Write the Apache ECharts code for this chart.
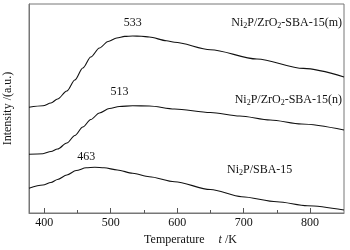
<!DOCTYPE html>
<html><head><meta charset="utf-8">
<script src="https://cdn.jsdelivr.net/npm/echarts@6/dist/echarts.min.js"></script>
<style>html,body{margin:0;padding:0;background:#fff}#c{width:350px;height:250px}</style>
</head><body><div id="c"></div>
<script>
// Temperature (K) and intensity (a.u.) for each sample
var tempM = [377, 398, 410, 420, 434, 446, 458, 470, 483, 496, 509, 521, 533, 546, 558, 584, 596, 650, 720, 790, 851];
var intM  = [105.7, 107.2, 110, 114, 122, 133, 145, 156, 165, 171.5, 175, 176.6, 177, 176.8, 176, 172.3, 170.7, 163.3, 154, 144.6, 136];
var tempN = [377, 398, 410, 420, 434, 446, 458, 470, 483, 498, 513, 533, 558, 596, 650, 694, 740, 787, 851];
var intN  = [58.7, 59.3, 61.5, 64, 70, 77.5, 86, 93.5, 100, 104.5, 106.5, 107.3, 107, 104, 100.5, 97, 93, 89, 83];
var tempS = [377, 398, 410, 420, 434, 448, 463, 476, 490, 510, 533, 558, 596, 650, 697, 750, 796, 851];
var intS  = [24.7, 28, 30.5, 33.5, 38, 42.5, 45.2, 45.8, 45.3, 43, 39.7, 36.3, 31.3, 23.5, 16.3, 11.3, 7.3, 3];
var peakM = [533, 177], peakN = [513, 106.5], peakS = [463, 45.2];
var majorTicks = [400, 500, 600, 700, 800];
var minorTicks = [450, 550, 650, 750];
var names = ['Ni{s|2}P/ZrO{s|2}-SBA-15(m)', 'Ni{s|2}P/ZrO{s|2}-SBA-15(n)', 'Ni{s|2}P/SBA-15'];

var FONT = '"Liberation Serif","Times New Roman",serif';
function pairs(t, v) { return t.map(function (x, i) { return [x, v[i]]; }); }
function line(t, v, peak, dist) {
  return { type: 'line', data: pairs(t, v), smooth: 0.3, smoothMonotone: 'x', symbol: 'none', showSymbol: false,
    lineStyle: { color: '#111', width: 1.1 }, silent: true, animation: false,
    markPoint: { symbol: 'circle', symbolSize: 0, silent: true, animation: false,
      label: { show: true, position: 'top', distance: dist, fontFamily: FONT, fontSize: 12, color: '#111',
        formatter: function (p) { return String(p.data.coord[0]); } },
      data: [{ coord: peak }] } };
}
var subRich = { s: { fontSize: 8, fontFamily: FONT, color: '#111', padding: [6, 0, 0, 0] } };
var chart = echarts.init(document.getElementById('c'), null, { renderer: 'canvas' });
var axisCommon = { min: 377, max: 851 };
chart.setOption({
  animation: false,
  grid: { left: 29, right: 6, top: 4, bottom: 37, show: true, borderColor: '#777', borderWidth: 1,
    containLabel: false, outerBoundsMode: 'none' },
  xAxis: [
    Object.assign({ type: 'value', name: 'Temperature{g|}{i|t} /K', nameLocation: 'middle', nameGap: 17,
      nameTextStyle: { fontFamily: FONT, fontSize: 12, color: '#111', padding: [0, 0, 0, 8],
        rich: { g: { width: 14 }, i: { fontStyle: 'italic', fontFamily: FONT, fontSize: 12, color: '#111' } } },
      axisLine: { lineStyle: { color: '#777' } },
      axisTick: { show: true, inside: true, length: 5, customValues: majorTicks, lineStyle: { color: '#555' } },
      axisLabel: { customValues: majorTicks, fontFamily: FONT, fontSize: 12, color: '#111', margin: 4 },
      splitLine: { show: false } }, axisCommon),
    Object.assign({ type: 'value', position: 'bottom',
      axisLine: { show: false },
      axisTick: { show: true, inside: true, length: 3, customValues: minorTicks, lineStyle: { color: '#555' } },
      axisLabel: { show: false }, splitLine: { show: false } }, axisCommon)
  ],
  yAxis: { type: 'value', min: 0, max: 209, name: 'Intensity /(a.u.)', nameLocation: 'middle', nameGap: 15,
    nameTextStyle: { fontFamily: FONT, fontSize: 12, color: '#111' },
    axisLine: { show: true, lineStyle: { color: '#777' } }, axisTick: { show: false },
    axisLabel: { show: false }, splitLine: { show: false } },
  graphic: [
    { type: 'text', right: 8, top: 17, style: { text: names[0], font: '12px ' + FONT, fill: '#111', rich: subRich } },
    { type: 'text', right: 8, top: 94, style: { text: names[1], font: '12px ' + FONT, fill: '#111', rich: subRich } },
    { type: 'text', left: 227, top: 164, style: { text: names[2], font: '12px ' + FONT, fill: '#111', rich: subRich } }
  ],
  series: [line(tempM, intM, peakM, 7), line(tempN, intN, peakN, 9), line(tempS, intS, peakS, 5)]
});
</script></body></html>
